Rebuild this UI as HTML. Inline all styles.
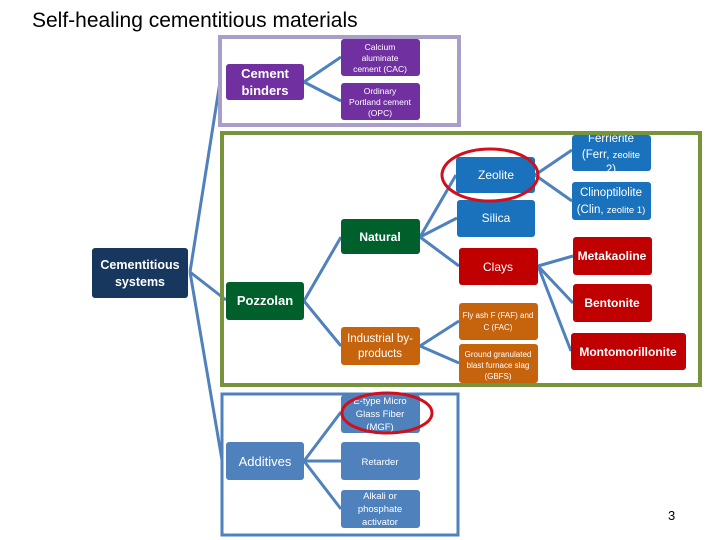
<!DOCTYPE html>
<html><head><meta charset="utf-8"><style>
html,body{margin:0;padding:0;background:#fff;}
svg{display:block;font-family:"Liberation Sans",sans-serif;}
</style></head><body>
<svg width="720" height="540" viewBox="0 0 720 540" xmlns="http://www.w3.org/2000/svg">
<defs><clipPath id="cf"><rect x="0" y="135" width="720" height="405"/></clipPath></defs>
<text x="32" y="27" font-size="21" fill="#000">Self-healing cementitious materials</text>
<!-- connectors -->
<g stroke="#4f81bd" stroke-width="3" fill="none">
<path d="M190 272 L220 82 M190 272 L226 300 M190 272 L222 460"/>
<path d="M304 82 L341 57 M304 82 L341 101"/>
<path d="M304 301 L341 237 M304 301 L341 346"/>
<path d="M420 237 L456 175 M420 237 L457 218 M420 237 L459 266"/>
<path d="M535 175 L572 150 M535 175 L572 201"/>
<path d="M538 266 L573 256 M538 266 L573 303 M538 266 L571 351"/>
<path d="M420 346 L459 321 M420 346 L459 363"/>
<path d="M304 461 L341 412 M304 461 L341 461 M304 461 L341 509"/>
</g>
<!-- boxes -->
<g>
<rect x="226" y="64" width="78" height="36" rx="3" fill="#7030a0"/>
<rect x="341" y="39" width="79" height="37" rx="3" fill="#7030a0"/>
<rect x="341" y="83" width="79" height="37" rx="3" fill="#7030a0"/>
<rect x="92" y="248" width="96" height="50" rx="3" fill="#17375e"/>
<rect x="341" y="219" width="79" height="35" rx="3" fill="#00602b"/>
<rect x="226" y="282" width="78" height="38" rx="3" fill="#00602b"/>
<rect x="341" y="327" width="79" height="38" rx="3" fill="#c6640e"/>
<rect x="459" y="303" width="79" height="37" rx="3" fill="#c6640e"/>
<rect x="459" y="344" width="79" height="39" rx="3" fill="#c6640e"/>
<rect x="456" y="157" width="79" height="36" rx="3" fill="#1a72bd"/>
<rect x="457" y="200" width="78" height="37" rx="3" fill="#1a72bd"/>
<rect x="572" y="135" width="79" height="36" rx="3" fill="#1a72bd"/>
<rect x="572" y="182" width="79" height="38" rx="3" fill="#1a72bd"/>
<rect x="459" y="248" width="79" height="37" rx="3" fill="#c00000"/>
<rect x="573" y="237" width="79" height="38" rx="3" fill="#c00000"/>
<rect x="573" y="284" width="79" height="38" rx="3" fill="#c00000"/>
<rect x="571" y="333" width="115" height="37" rx="3" fill="#c00000"/>
<rect x="226" y="442" width="78" height="38" rx="3" fill="#4f81bd"/>
<rect x="341" y="395" width="79" height="38" rx="3" fill="#4f81bd"/>
<rect x="341" y="442" width="79" height="38" rx="3" fill="#4f81bd"/>
<rect x="341" y="490" width="79" height="38" rx="3" fill="#4f81bd"/>
</g>
<g fill="#fff" text-anchor="middle">
<text x="265" y="78" font-size="13" font-weight="bold">Cement</text>
<text x="265" y="95" font-size="13" font-weight="bold">binders</text>
<text x="380" y="50" font-size="8.5">Calcium</text>
<text x="380" y="61" font-size="8.5">aluminate</text>
<text x="380" y="72" font-size="8.5">cement (CAC)</text>
<text x="380" y="94" font-size="8.5">Ordinary</text>
<text x="380" y="105" font-size="8.5">Portland cement</text>
<text x="380" y="116" font-size="8.5">(OPC)</text>
<text x="140" y="269" font-size="12.5" font-weight="bold">Cementitious</text>
<text x="140" y="286" font-size="12.5" font-weight="bold">systems</text>
<text x="380" y="241" font-size="12" font-weight="bold">Natural</text>
<text x="265" y="305" font-size="13" font-weight="bold">Pozzolan</text>
<text x="380" y="342" font-size="11.5">Industrial by-</text>
<text x="380" y="357" font-size="11.5">products</text>
<text x="498" y="318" font-size="8">Fly ash F (FAF) and</text>
<text x="498" y="330" font-size="8">C (FAC)</text>
<text x="498" y="357" font-size="8">Ground granulated</text>
<text x="498" y="368" font-size="8">blast furnace slag</text>
<text x="498" y="379" font-size="8">(GBFS)</text>
<text x="496" y="179" font-size="12">Zeolite</text>
<text x="496" y="222" font-size="12">Silica</text>
<text x="498" y="271" font-size="12">Clays</text>
<g clip-path="url(#cf)">
<text x="611" y="142" font-size="11.5">Ferrierite</text>
</g>
<text x="611" y="158" font-size="11.5">(Ferr, <tspan font-size="9.5">zeolite</tspan></text>
<text x="611" y="173" font-size="11.5">2)</text>
<text x="611" y="196" font-size="11.5">Clinoptilolite</text>
<text x="611" y="213" font-size="11.5">(Clin, <tspan font-size="9.5">zeolite 1)</tspan></text>
<text x="612" y="260" font-size="12" font-weight="bold">Metakaoline</text>
<text x="612" y="307" font-size="12" font-weight="bold">Bentonite</text>
<text x="628" y="356" font-size="12" font-weight="bold">Montomorillonite</text>
<text x="265" y="466" font-size="13">Additives</text>
<text x="380" y="404" font-size="9.5">E-type Micro</text>
<text x="380" y="417" font-size="9.5">Glass Fiber</text>
<text x="380" y="430" font-size="9.5">(MGF)</text>
<text x="380" y="465" font-size="9.5">Retarder</text>
<text x="380" y="499" font-size="9.5">Alkali or</text>
<text x="380" y="512" font-size="9.5">phosphate</text>
<text x="380" y="525" font-size="9.5">activator</text>
</g>
<!-- frames -->
<rect x="220" y="37" width="239" height="88" fill="none" stroke="#a99dc9" stroke-width="4"/>
<rect x="222" y="133" width="478" height="252" fill="none" stroke="#77933c" stroke-width="4"/>
<rect x="222" y="394" width="236" height="141" fill="none" stroke="#4f81bd" stroke-width="3"/>
<ellipse cx="490" cy="175" rx="48" ry="26" fill="none" stroke="#d0101c" stroke-width="3"/>
<ellipse cx="387" cy="413" rx="45" ry="20" fill="none" stroke="#d0101c" stroke-width="3"/>
<text x="668" y="520" font-size="13" fill="#000">3</text>
</svg>
</body></html>
